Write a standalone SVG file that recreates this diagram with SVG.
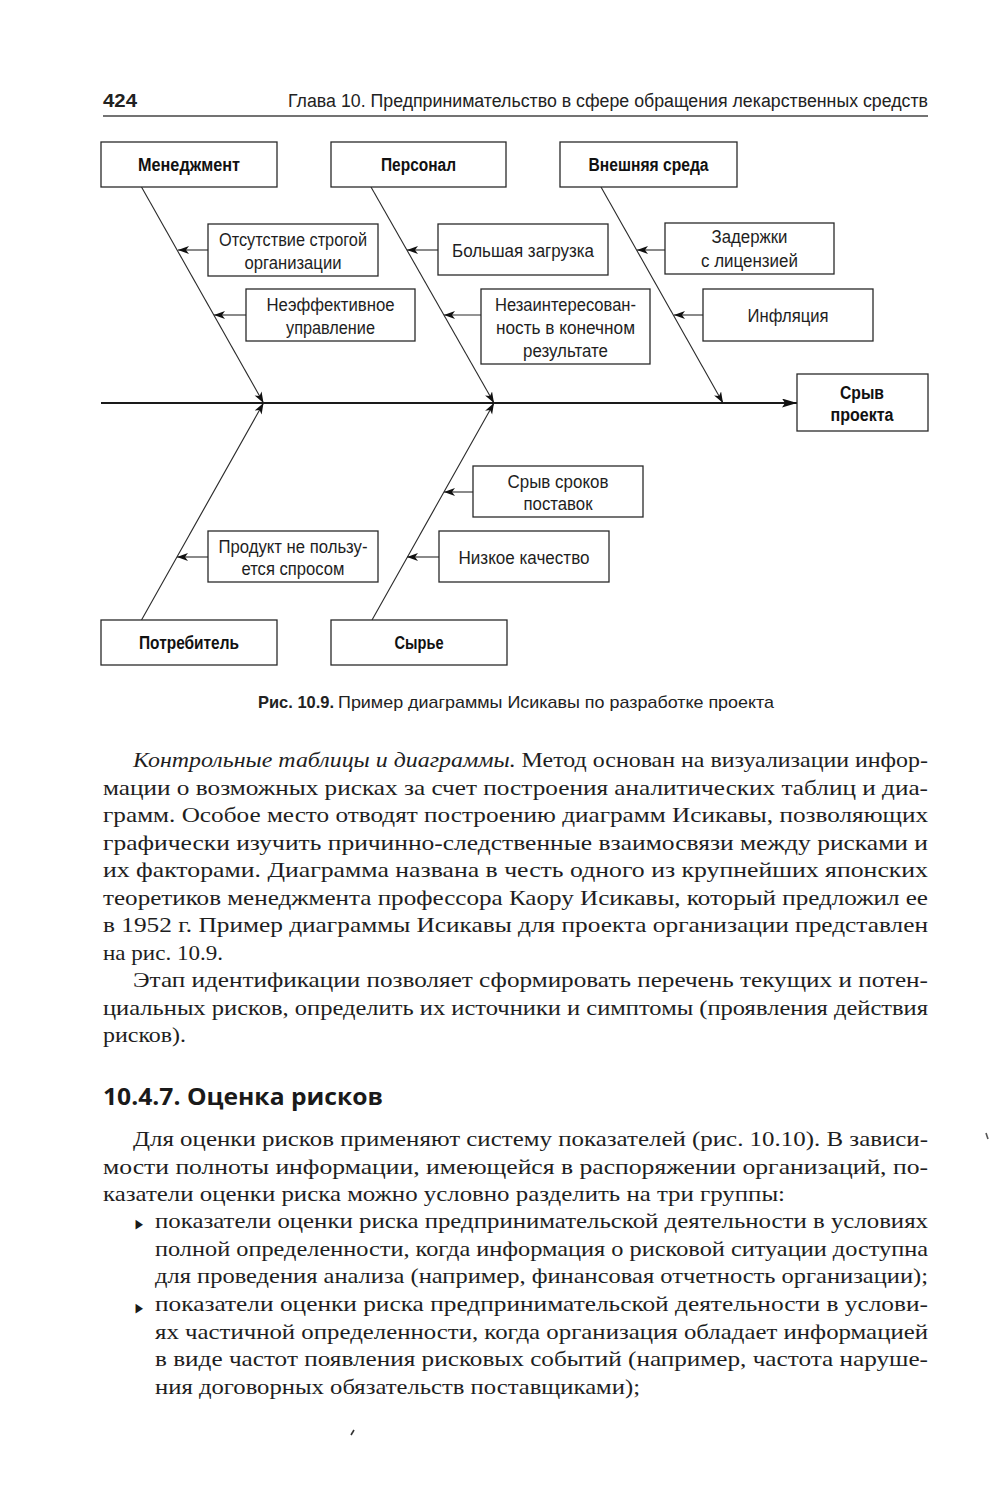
<svg xmlns="http://www.w3.org/2000/svg" width="1000" height="1493" viewBox="0 0 1000 1493">
<style>
.bg{fill:#ffffff}
.box{fill:#ffffff;stroke:#2a2a2a;stroke-width:1.3}
.t{font-family:"Liberation Sans",Arial,sans-serif;font-size:17.5px;fill:#1e1e1e;text-anchor:middle}
.b{font-family:"Liberation Sans",Arial,sans-serif;font-size:18px;font-weight:bold;fill:#111;text-anchor:middle}
.bone{stroke:#2a2a2a;stroke-width:1.1;fill:none}
.spine{stroke:#1a1a1a;stroke-width:2.2;fill:none}
.hdr{font-family:"Liberation Sans",Arial,sans-serif;font-size:18px;fill:#222}
.body{font-family:"Liberation Serif","Times New Roman",serif;font-size:21px;fill:#1e1e1e}
.it{font-style:italic}
.h2{font-family:"Open Sans","Liberation Sans",sans-serif;font-size:24px;font-weight:bold;fill:#1a1a1a}
.cap{font-family:"Liberation Sans",Arial,sans-serif;font-size:17px;fill:#222}
.bul{font-family:"DejaVu Sans",sans-serif;font-size:13px;fill:#1a1a1a}
</style>
<defs>
<marker id="ah" markerUnits="userSpaceOnUse" markerWidth="12" markerHeight="9" refX="11" refY="4" orient="auto">
<path d="M0,0 L11,4 L0,8 L3,4 z" fill="#111"/>
</marker>
<marker id="ahs" markerUnits="userSpaceOnUse" markerWidth="16" markerHeight="10" refX="15" refY="4.5" orient="auto">
<path d="M0,0 L15,4.5 L0,9 L3,4.5 z" fill="#111"/>
</marker>
</defs>
<rect class="bg" x="0" y="0" width="1000" height="1493"/>

<g id="header">
<text class="hdr" x="103" y="107" font-weight="bold" textLength="34" lengthAdjust="spacingAndGlyphs">424</text>
<text class="hdr" x="288" y="107" textLength="640" lengthAdjust="spacingAndGlyphs">Глава 10. Предпринимательство в сфере обращения лекарственных средств</text>
<line x1="103" y1="116" x2="928" y2="116" stroke="#444" stroke-width="1.4"/>
</g>

<g id="connectors">
<line class="spine" x1="101" y1="403" x2="797" y2="403" marker-end="url(#ahs)"/>
<line class="bone" x1="141.5" y1="187" x2="263.5" y2="403" marker-end="url(#ah)"/>
<line class="bone" x1="371" y1="187" x2="494" y2="403" marker-end="url(#ah)"/>
<line class="bone" x1="601" y1="187" x2="723" y2="403" marker-end="url(#ah)"/>
<line class="bone" x1="141.5" y1="620" x2="263.5" y2="403" marker-end="url(#ah)"/>
<line class="bone" x1="372" y1="620" x2="494" y2="403" marker-end="url(#ah)"/>
<line class="bone" x1="208" y1="250" x2="178" y2="250" marker-end="url(#ah)"/>
<line class="bone" x1="246" y1="315" x2="214" y2="315" marker-end="url(#ah)"/>
<line class="bone" x1="438" y1="250" x2="407" y2="250" marker-end="url(#ah)"/>
<line class="bone" x1="481" y1="315" x2="444" y2="315" marker-end="url(#ah)"/>
<line class="bone" x1="665" y1="250" x2="637" y2="250" marker-end="url(#ah)"/>
<line class="bone" x1="703" y1="315" x2="674" y2="315" marker-end="url(#ah)"/>
<line class="bone" x1="473" y1="492" x2="444" y2="492" marker-end="url(#ah)"/>
<line class="bone" x1="208" y1="557" x2="177" y2="557" marker-end="url(#ah)"/>
<line class="bone" x1="439" y1="557" x2="407" y2="557" marker-end="url(#ah)"/>
</g>

<g id="n-management">
<rect class="box" x="101" y="142" width="176" height="45"/>
<text class="b" x="189" y="171" textLength="102" lengthAdjust="spacingAndGlyphs">Менеджмент</text>
</g>
<g id="n-personnel">
<rect class="box" x="331" y="142" width="175" height="45"/>
<text class="b" x="418.5" y="171" textLength="75" lengthAdjust="spacingAndGlyphs">Персонал</text>
</g>
<g id="n-environment">
<rect class="box" x="560" y="142" width="177" height="45"/>
<text class="b" x="648.5" y="171" textLength="120" lengthAdjust="spacingAndGlyphs">Внешняя среда</text>
</g>
<g id="n-consumer">
<rect class="box" x="101" y="620" width="176" height="45"/>
<text class="b" x="189" y="649" textLength="100" lengthAdjust="spacingAndGlyphs">Потребитель</text>
</g>
<g id="n-raw">
<rect class="box" x="331" y="620" width="176" height="45"/>
<text class="b" x="419" y="649" textLength="49" lengthAdjust="spacingAndGlyphs">Сырье</text>
</g>
<g id="n-result">
<rect class="box" x="797" y="374" width="131" height="57"/>
<text class="b" x="862" y="399" textLength="44" lengthAdjust="spacingAndGlyphs">Срыв</text>
<text class="b" x="862" y="421" textLength="63" lengthAdjust="spacingAndGlyphs">проекта</text>
</g>

<g id="c-org">
<rect class="box" x="208" y="224" width="170" height="52"/>
<text class="t" x="293" y="246" textLength="148" lengthAdjust="spacingAndGlyphs">Отсутствие строгой</text>
<text class="t" x="293" y="269" textLength="97" lengthAdjust="spacingAndGlyphs">организации</text>
</g>
<g id="c-manage">
<rect class="box" x="246" y="289" width="169" height="52"/>
<text class="t" x="330.5" y="311" textLength="128" lengthAdjust="spacingAndGlyphs">Неэффективное</text>
<text class="t" x="330.5" y="334" textLength="89" lengthAdjust="spacingAndGlyphs">управление</text>
</g>
<g id="c-load">
<rect class="box" x="438" y="224" width="170" height="51"/>
<text class="t" x="523" y="257" textLength="142" lengthAdjust="spacingAndGlyphs">Большая загрузка</text>
</g>
<g id="c-interest">
<rect class="box" x="481" y="289" width="169" height="75"/>
<text class="t" x="565.5" y="311" textLength="141" lengthAdjust="spacingAndGlyphs">Незаинтересован-</text>
<text class="t" x="565.5" y="334" textLength="139" lengthAdjust="spacingAndGlyphs">ность в конечном</text>
<text class="t" x="565.5" y="357" textLength="85" lengthAdjust="spacingAndGlyphs">результате</text>
</g>
<g id="c-license">
<rect class="box" x="665" y="223" width="169" height="51"/>
<text class="t" x="749.5" y="243" textLength="76" lengthAdjust="spacingAndGlyphs">Задержки</text>
<text class="t" x="749.5" y="267" textLength="97" lengthAdjust="spacingAndGlyphs">с лицензией</text>
</g>
<g id="c-inflation">
<rect class="box" x="703" y="289" width="170" height="52"/>
<text class="t" x="788" y="322" textLength="81" lengthAdjust="spacingAndGlyphs">Инфляция</text>
</g>
<g id="c-supply">
<rect class="box" x="473" y="466" width="170" height="51"/>
<text class="t" x="558" y="488" textLength="101" lengthAdjust="spacingAndGlyphs">Срыв сроков</text>
<text class="t" x="558" y="510" textLength="69" lengthAdjust="spacingAndGlyphs">поставок</text>
</g>
<g id="c-demand">
<rect class="box" x="208" y="531" width="170" height="51"/>
<text class="t" x="293" y="553" textLength="149" lengthAdjust="spacingAndGlyphs">Продукт не пользу-</text>
<text class="t" x="293" y="575" textLength="103" lengthAdjust="spacingAndGlyphs">ется спросом</text>
</g>
<g id="c-quality">
<rect class="box" x="439" y="531" width="170" height="51"/>
<text class="t" x="524" y="564" textLength="131" lengthAdjust="spacingAndGlyphs">Низкое качество</text>
</g>

<g id="caption">
<text class="cap" x="258" y="708" font-weight="bold" textLength="76" lengthAdjust="spacingAndGlyphs">Рис. 10.9.</text>
<text class="cap" x="338" y="708" textLength="436" lengthAdjust="spacingAndGlyphs">Пример диаграммы Исикавы по разработке проекта</text>
</g>

<g id="body">
<text class="body" x="133" y="767" textLength="795" lengthAdjust="spacingAndGlyphs"><tspan class="it">Контрольные таблицы и диаграммы.</tspan> Метод основан на визуализации инфор-</text>
<text class="body" x="103" y="794.5" textLength="825" lengthAdjust="spacingAndGlyphs">мации о возможных рисках за счет построения аналитических таблиц и диа-</text>
<text class="body" x="103" y="822" textLength="825" lengthAdjust="spacingAndGlyphs">грамм. Особое место отводят построению диаграмм Исикавы, позволяющих</text>
<text class="body" x="103" y="849.5" textLength="825" lengthAdjust="spacingAndGlyphs">графически изучить причинно-следственные взаимосвязи между рисками и</text>
<text class="body" x="103" y="877" textLength="825" lengthAdjust="spacingAndGlyphs">их факторами. Диаграмма названа в честь одного из крупнейших японских</text>
<text class="body" x="103" y="904.5" textLength="825" lengthAdjust="spacingAndGlyphs">теоретиков менеджмента профессора Каору Исикавы, который предложил ее</text>
<text class="body" x="103" y="932" textLength="825" lengthAdjust="spacingAndGlyphs">в 1952 г. Пример диаграммы Исикавы для проекта организации представлен</text>
<text class="body" x="103" y="959.5" textLength="120" lengthAdjust="spacingAndGlyphs">на рис. 10.9.</text>
<text class="body" x="133" y="987" textLength="795" lengthAdjust="spacingAndGlyphs">Этап идентификации позволяет сформировать перечень текущих и потен-</text>
<text class="body" x="103" y="1014.5" textLength="825" lengthAdjust="spacingAndGlyphs">циальных рисков, определить их источники и симптомы (проявления действия</text>
<text class="body" x="103" y="1042" textLength="83" lengthAdjust="spacingAndGlyphs">рисков).</text>

<text class="h2" x="103" y="1105" textLength="280" lengthAdjust="spacingAndGlyphs">10.4.7. Оценка рисков</text>

<text class="body" x="133" y="1146" textLength="795" lengthAdjust="spacingAndGlyphs">Для оценки рисков применяют систему показателей (рис. 10.10). В зависи-</text>
<text class="body" x="103" y="1173.5" textLength="825" lengthAdjust="spacingAndGlyphs">мости полноты информации, имеющейся в распоряжении организаций, по-</text>
<text class="body" x="103" y="1201" textLength="682" lengthAdjust="spacingAndGlyphs">казатели оценки риска можно условно разделить на три группы:</text>
<text class="bul" x="135.5" y="1227.5" textLength="7.5" lengthAdjust="spacingAndGlyphs">▶</text>
<text class="body" x="155" y="1228" textLength="773" lengthAdjust="spacingAndGlyphs">показатели оценки риска предпринимательской деятельности в условиях</text>
<text class="body" x="155" y="1255.5" textLength="773" lengthAdjust="spacingAndGlyphs">полной определенности, когда информация о рисковой ситуации доступна</text>
<text class="body" x="155" y="1283" textLength="773" lengthAdjust="spacingAndGlyphs">для проведения анализа (например, финансовая отчетность организации);</text>
<text class="bul" x="135.5" y="1311.5" textLength="7.5" lengthAdjust="spacingAndGlyphs">▶</text>
<text class="body" x="155" y="1311" textLength="773" lengthAdjust="spacingAndGlyphs">показатели оценки риска предпринимательской деятельности в услови-</text>
<text class="body" x="155" y="1338.5" textLength="773" lengthAdjust="spacingAndGlyphs">ях частичной определенности, когда организация обладает информацией</text>
<text class="body" x="155" y="1366" textLength="773" lengthAdjust="spacingAndGlyphs">в виде частот появления рисковых событий (например, частота наруше-</text>
<text class="body" x="155" y="1393.5" textLength="485" lengthAdjust="spacingAndGlyphs">ния договорных обязательств поставщиками);</text>
</g>

<g id="marks">
<path d="M986,1133 L988,1139" stroke="#555" stroke-width="1.6"/>
<path d="M351,1435 L354,1430" stroke="#333" stroke-width="1.6"/>
</g>
</svg>
